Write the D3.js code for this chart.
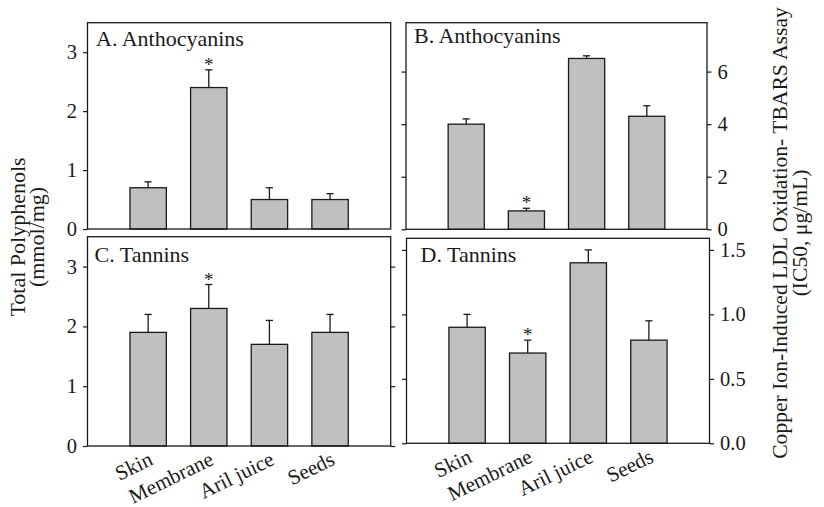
<!DOCTYPE html>
<html>
<head>
<meta charset="utf-8">
<script src="https://cdn.jsdelivr.net/npm/d3@7/dist/d3.min.js"></script>
<style>
  html, body { margin: 0; padding: 0; background: #fff; }
  svg { display: block; font-family: "Liberation Serif", "DejaVu Serif", serif; }
</style>
</head>
<body>
<svg id="chart" width="824" height="507"></svg>
<script>
// Pomegranate tissue fractions
const tissues = ["Skin", "Membrane", "Aril juice", "Seeds"];

// A: anthocyanins, total polyphenols (mmol/mg)
const anthoPoly = [0.7, 2.4, 0.5, 0.5];
const anthoPolyErr = [0.1, 0.3, 0.2, 0.1];
// B: anthocyanins, LDL oxidation IC50 (ug/mL)
const anthoIC50 = [4.0, 0.7, 6.5, 4.3];
const anthoIC50Err = [0.2, 0.1, 0.1, 0.4];
// C: tannins, total polyphenols (mmol/mg)
const tanninPoly = [1.9, 2.3, 1.7, 1.9];
const tanninPolyErr = [0.3, 0.4, 0.4, 0.3];
// D: tannins, LDL oxidation IC50 (ug/mL)
const tanninIC50 = [0.9, 0.7, 1.4, 0.8];
const tanninIC50Err = [0.1, 0.1, 0.1, 0.15];

// significance markers (membrane fraction)
const significant = [false, true, false, false];

// tick values
const polyTicks = [0, 1, 2, 3];
const anthoIC50Ticks = [0, 2, 4, 6];
const tanninIC50Ticks = [0, 0.5, 1.0, 1.5];

const svg = d3.select("#chart");
const ink = "#1a1a1a";

const panels = [
  { title: "A. Anthocyanins", values: anthoPoly, err: anthoPolyErr,
    box: [87.5, 22.7, 390.7, 229], domain: [0, 3.5], ticks: polyTicks,
    labelSide: "left", otherTicks: false, fmt: d3.format("d"), titleAt: [8.5, 23], xLabels: false },
  { title: "B. Anthocyanins", values: anthoIC50, err: anthoIC50Err,
    box: [406, 22.7, 707, 229.3], domain: [0, 7.86], ticks: anthoIC50Ticks,
    labelSide: "right", otherTicks: true, fmt: d3.format("d"), titleAt: [8, 20], xLabels: false },
  { title: "C. Tannins", values: tanninPoly, err: tanninPolyErr,
    box: [87.5, 236.7, 390.7, 446], domain: [0, 3.5], ticks: polyTicks,
    labelSide: "left", otherTicks: true, fmt: d3.format("d"), titleAt: [7, 25.6], xLabels: true },
  { title: "D. Tannins", values: tanninIC50, err: tanninIC50Err,
    box: [406.5, 238.3, 709.5, 443.3], domain: [0, 1.59], ticks: tanninIC50Ticks,
    labelSide: "right", otherTicks: true, fmt: d3.format(".1f"), titleAt: [14, 24], xLabels: true }
];

panels.forEach(p => {
  const [x0, y0, x1, y1] = p.box;
  const x = d3.scaleBand().domain(tissues).range([x0, x1])
    .paddingInner(0.4).paddingOuter(0.7);
  const y = d3.scaleLinear().domain(p.domain).range([y1, y0]);
  const g = svg.append("g");

  // labelled axis
  const main = p.labelSide === "left" ? d3.axisLeft(y) : d3.axisRight(y);
  main.tickValues(p.ticks).tickFormat(p.fmt).tickSize(4.5).tickPadding(6);
  const ga = g.append("g")
    .attr("transform", `translate(${p.labelSide === "left" ? x0 : x1},0)`)
    .call(main);
  ga.select(".domain").remove();
  ga.selectAll("line").attr("stroke", ink).attr("stroke-width", 1.2);
  ga.selectAll("text").attr("fill", ink)
    .style("font-family", "'Liberation Serif', serif").style("font-size", "20.5px");

  // unlabelled ticks on the opposite side
  if (p.otherTicks) {
    const other = p.labelSide === "left" ? d3.axisRight(y) : d3.axisLeft(y);
    other.tickValues(p.ticks).tickFormat("").tickSize(4.5);
    const go = g.append("g")
      .attr("transform", `translate(${p.labelSide === "left" ? x1 : x0},0)`)
      .call(other);
    go.select(".domain").remove();
    go.selectAll("line").attr("stroke", ink).attr("stroke-width", 1.2);
  }

  // bars
  g.selectAll("rect.bar").data(p.values).join("rect")
    .attr("class", "bar")
    .attr("x", (d, i) => x(tissues[i]))
    .attr("width", x.bandwidth())
    .attr("y", d => y(d))
    .attr("height", d => y(0) - y(d))
    .attr("fill", "#c0c0c0")
    .attr("stroke", ink)
    .attr("stroke-width", 1.3);

  // upper error bars
  const cx = i => x(tissues[i]) + x.bandwidth() / 2;
  const eb = g.selectAll("g.err").data(p.values).join("g").attr("class", "err");
  eb.append("line")
    .attr("x1", (d, i) => cx(i)).attr("x2", (d, i) => cx(i))
    .attr("y1", d => y(d)).attr("y2", (d, i) => y(d + p.err[i]))
    .attr("stroke", ink).attr("stroke-width", 1.3);
  eb.append("line")
    .attr("x1", (d, i) => cx(i) - 3.6).attr("x2", (d, i) => cx(i) + 3.6)
    .attr("y1", (d, i) => y(d + p.err[i])).attr("y2", (d, i) => y(d + p.err[i]))
    .attr("stroke", ink).attr("stroke-width", 1.3);

  // significance asterisks
  g.selectAll("text.sig").data(p.values.map((d, i) => ({ d, i })).filter(o => significant[o.i]))
    .join("text")
    .attr("class", "sig")
    .attr("x", o => cx(o.i))
    .attr("y", o => y(o.d + p.err[o.i]) + 1)
    .attr("text-anchor", "middle")
    .attr("fill", ink)
    .style("font-size", "19px")
    .text("*");

  // frame
  g.append("rect")
    .attr("x", x0).attr("y", y0)
    .attr("width", x1 - x0).attr("height", y1 - y0)
    .attr("fill", "none").attr("stroke", ink).attr("stroke-width", 1.3);

  // panel title
  g.append("text")
    .attr("x", x0 + p.titleAt[0]).attr("y", y0 + p.titleAt[1])
    .attr("fill", ink)
    .style("font-size", "22px")
    .text(p.title);

  // category labels
  if (p.xLabels) {
    g.selectAll("text.cat").data(tissues).join("text")
      .attr("class", "cat")
      .attr("text-anchor", "end")
      .attr("transform", (d, i) => `translate(${cx(i) + 6},${y1 + 18}) rotate(-26)`)
      .attr("fill", ink)
      .style("font-size", "21px")
      .text(d => d);
  }
});

// left axis title
const leftTitle = svg.append("text")
  .attr("transform", "translate(0,237) rotate(-90)")
  .attr("text-anchor", "middle")
  .attr("fill", ink)
  .style("font-size", "22px");
leftTitle.append("tspan").attr("x", 0).attr("y", 25).text("Total Polyphenols");
leftTitle.append("tspan").attr("x", 0).attr("y", 43.5).text("(mmol/mg)");

// right axis title
const rightTitle = svg.append("text")
  .attr("transform", "translate(0,233) rotate(-90)")
  .attr("text-anchor", "middle")
  .attr("fill", ink)
  .style("font-size", "21.6px");
rightTitle.append("tspan").attr("x", 0).attr("y", 787).text("Copper Ion-Induced LDL Oxidation- TBARS Assay");
rightTitle.append("tspan").attr("x", 0).attr("y", 806.5).text("(IC50, μg/mL)");
</script>
</body>
</html>
